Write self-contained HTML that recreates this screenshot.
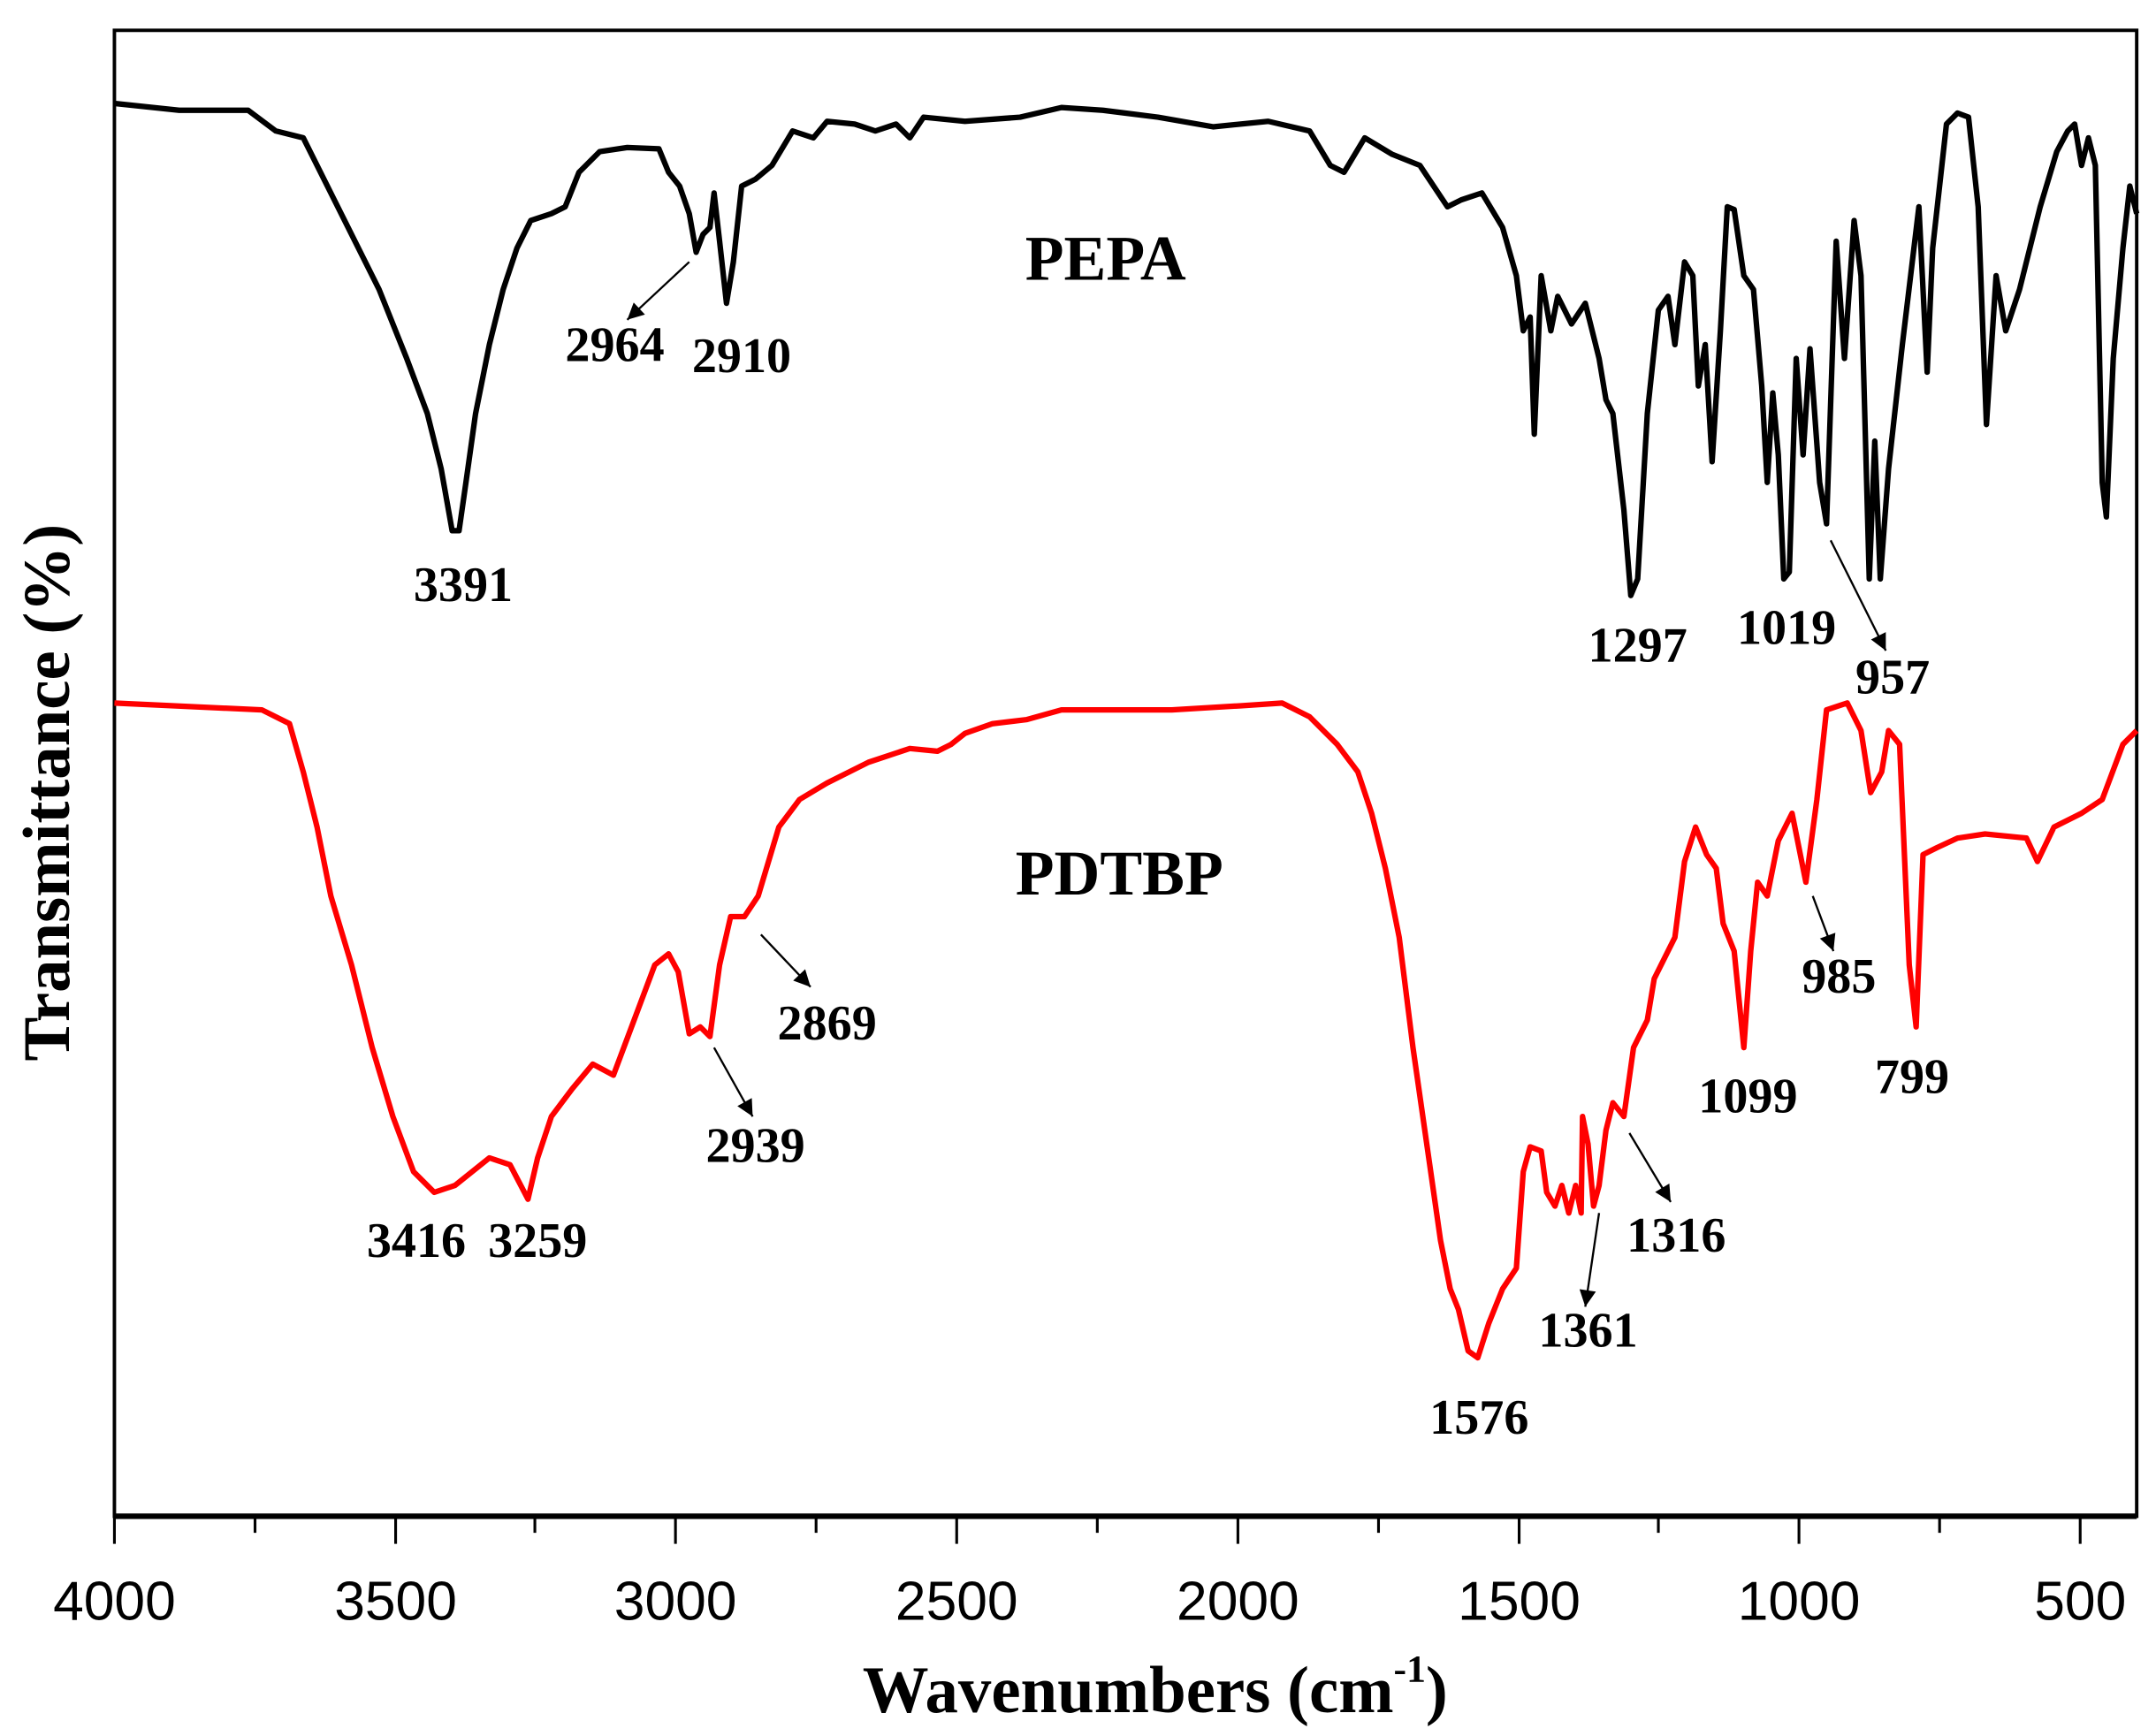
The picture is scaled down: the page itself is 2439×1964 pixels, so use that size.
<!DOCTYPE html>
<html><head><meta charset="utf-8"><style>html,body{margin:0;padding:0;background:#fff}svg{display:block}</style></head>
<body>
<svg width="2439" height="1964" viewBox="0 0 1564 1259.4" xmlns="http://www.w3.org/2000/svg">
<defs>
<marker id="a" viewBox="0 0 10 10" refX="10" refY="5" markerWidth="16" markerHeight="12" markerUnits="userSpaceOnUse" orient="auto"><path d="M0,0 L10,5 L0,10 z" fill="#000"/></marker></defs>
<rect x="83" y="22" width="1467" height="1078" fill="none" stroke="#000" stroke-width="2.5"/>
<line x1="83" y1="1100" x2="1550" y2="1100" stroke="#000" stroke-width="4"/>
<g stroke="#000" stroke-width="2">
<line x1="83" y1="1100" x2="83" y2="1120"/><line x1="185" y1="1100" x2="185" y2="1112"/>
<line x1="287" y1="1100" x2="287" y2="1120"/><line x1="388" y1="1100" x2="388" y2="1112"/>
<line x1="490" y1="1100" x2="490" y2="1120"/><line x1="592" y1="1100" x2="592" y2="1112"/>
<line x1="694" y1="1100" x2="694" y2="1120"/><line x1="796" y1="1100" x2="796" y2="1112"/>
<line x1="898" y1="1100" x2="898" y2="1120"/><line x1="1000" y1="1100" x2="1000" y2="1112"/>
<line x1="1102" y1="1100" x2="1102" y2="1120"/><line x1="1203" y1="1100" x2="1203" y2="1112"/>
<line x1="1305" y1="1100" x2="1305" y2="1120"/><line x1="1407" y1="1100" x2="1407" y2="1112"/>
<line x1="1509" y1="1100" x2="1509" y2="1120"/>
</g>
<g font-family="Liberation Sans, sans-serif" font-size="40" text-anchor="middle" fill="#000">
<text x="83" y="1175">4000</text><text x="287" y="1175">3500</text><text x="490" y="1175">3000</text>
<text x="694" y="1175">2500</text><text x="898" y="1175">2000</text><text x="1102" y="1175">1500</text>
<text x="1305" y="1175">1000</text><text x="1509" y="1175">500</text>
</g>
<text x="838" y="1242" font-family="Liberation Serif, serif" font-weight="bold" font-size="48" text-anchor="middle">Wavenumbers (cm<tspan font-size="28" dy="-22">-1</tspan><tspan dy="22">)</tspan></text>
<text transform="translate(50,575) rotate(-90)" font-family="Liberation Serif, serif" font-weight="bold" font-size="48" text-anchor="middle">Transmittance (%)</text>
<polyline fill="none" stroke="#000" stroke-width="4" stroke-linejoin="round" points="83,75 130,80 180,80 200,95 220,100 235,130 255,170 275,210 295,260 310,300 320,340 328,385 333,385 338,350 345,300 355,250 365,210 375,180 385,160 400,155 410,150 420,125 435,110 455,107 478,108 485,125 493,135 500,155 505,183 510,170 515,165 518,140 522,175 527,220 532,190 538,135 548,130 560,120 575,95 590,100 600,88 620,90 635,95 650,90 660,100 670,85 700,88 740,85 770,78 800,80 840,85 880,92 920,88 950,95 965,120 975,125 990,100 1010,112 1030,120 1050,150 1060,145 1075,140 1090,165 1100,200 1105,240 1110,230 1113,315 1118,200 1125,240 1130,215 1140,235 1150,220 1160,260 1165,290 1170,300 1178,370 1183,432 1188,420 1195,300 1203,225 1210,215 1215,250 1222,190 1228,200 1232,280 1237,250 1242,335 1248,240 1253,150 1258,152 1265,200 1272,210 1278,280 1282,350 1286,285 1290,330 1294,420 1298,415 1303,260 1308,330 1313,253 1320,350 1325,380 1332,175 1338,260 1345,160 1350,200 1356,420 1360,320 1364,420 1370,340 1380,250 1392,150 1398,270 1402,180 1412,90 1420,82 1428,85 1435,150 1441,308 1448,200 1455,240 1465,210 1480,150 1492,110 1500,95 1505,90 1510,120 1515,100 1520,120 1525,350 1528,375 1533,260 1540,180 1545,135 1550,155"/>
<polyline fill="none" stroke="#f00" stroke-width="4" stroke-linejoin="round" points="83,510 190,515 210,525 220,560 230,600 240,650 255,700 270,760 285,810 300,850 315,865 330,860 355,840 370,845 383,870 390,840 400,810 415,790 430,772 445,780 460,740 475,700 485,692 492,705 500,750 508,745 515,752 522,700 530,665 540,665 550,650 565,600 580,580 600,568 630,553 660,543 680,545 690,540 700,532 720,525 745,522 770,515 800,515 850,515 900,512 930,510 950,520 970,540 985,560 995,590 1005,630 1015,680 1025,760 1035,830 1045,900 1052,935 1058,950 1065,980 1072,985 1080,960 1090,935 1100,920 1105,850 1110,832 1118,835 1122,865 1128,875 1133,860 1138,880 1143,860 1147,880 1148,810 1152,830 1156,875 1160,860 1165,820 1170,800 1178,810 1185,760 1195,740 1200,710 1215,680 1222,625 1230,600 1238,620 1245,630 1250,670 1258,690 1265,760 1270,690 1275,640 1282,650 1290,610 1300,590 1310,640 1318,580 1325,515 1340,510 1350,530 1357,575 1365,560 1370,530 1378,540 1385,700 1390,745 1395,620 1405,615 1420,608 1440,605 1470,608 1478,625 1490,600 1510,590 1525,580 1540,540 1550,530"/>
<g font-family="Liberation Serif, serif" font-weight="bold" font-size="36" text-anchor="middle" fill="#000">
<text x="802" y="203" font-size="46">PEPA</text>
<text x="812" y="649" font-size="46">PDTBP</text>
<text x="336" y="436">3391</text><text x="446" y="262">2964</text><text x="538" y="270">2910</text>
<text x="1188" y="480">1297</text><text x="1296" y="467">1019</text><text x="1373" y="503">957</text>
<text x="302" y="912">3416</text><text x="390" y="912">3259</text><text x="548" y="843">2939</text><text x="600" y="754">2869</text>
<text x="1073" y="1040">1576</text><text x="1152" y="977">1361</text><text x="1216" y="908">1316</text>
<text x="1268" y="807">1099</text><text x="1334" y="720">985</text><text x="1387" y="793">799</text>
</g>
<g stroke="#000" stroke-width="1.5" marker-end="url(#a)">
<line x1="500" y1="190" x2="455" y2="232"/>
<line x1="1328" y1="392" x2="1368" y2="472"/>
<line x1="518" y1="760" x2="546" y2="810"/>
<line x1="552" y1="678" x2="588" y2="716"/>
<line x1="1160" y1="880" x2="1150" y2="948"/>
<line x1="1182" y1="822" x2="1212" y2="872"/>
<line x1="1315" y1="650" x2="1330" y2="690"/>
</g>
</svg>
</body></html>
